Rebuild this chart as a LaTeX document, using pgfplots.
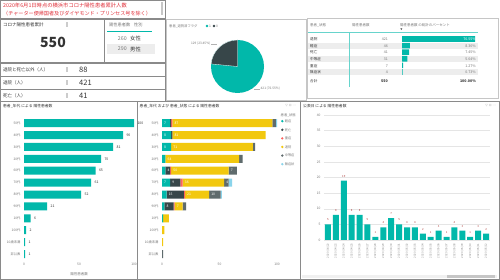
\documentclass[border=0pt]{standalone}
\usepackage{pgfplots}
\pgfplotsset{compat=1.18}
\usepackage{fontspec}
\setmainfont{Noto Sans CJK JP}
\newfontfamily\dejavu{DejaVu Sans}
\definecolor{pbteal}{HTML}{01B8AA}
\definecolor{pbdark}{HTML}{374649}
\definecolor{pbred}{HTML}{FD625E}
\definecolor{pbyellow}{HTML}{F2C80F}
\definecolor{pbgray}{HTML}{5F6B6D}
\definecolor{pblblue}{HTML}{8AD4EB}
\definecolor{titlered}{HTML}{E0303A}
\definecolor{txtgray}{HTML}{777777}
\definecolor{txtdark}{HTML}{333333}
\definecolor{bord}{HTML}{8A8A8A}
\definecolor{rowgray}{HTML}{EDEDED}
\newcommand{\fs}[1]{\fontsize{#1}{#1}\selectfont}
\pgfplotsset{pbi/.style={scale only axis, axis line style={draw=none}, major tick length=0pt,
  tick style={draw=none}, /pgf/number format/assume math mode=true,
  tick label style={font=\fs{3.3}, text=txtgray}, clip=false}}
\begin{document}
\begin{tikzpicture}[x=1pt,y=1pt]
\useasboundingbox (0,0) rectangle (500,280);
\fill[white] (0,0) rectangle (500,280);
% ---------- title box
\draw[bord, line width=0.6pt] (0.5,262) rectangle (165,279.5);
\node[anchor=west, inner sep=0, text=titlered] at (3,274.5) {\fs{5.3}2020年6月1日時点の横浜市コロナ陽性患者累計人数};
\node[anchor=west, inner sep=0, text=titlered] at (3,266.5) {\fs{5.1}（チャーター便帰国者及びダイヤモンド・プリンセス号を除く）};
\fill[gray!45] (161.3,265) rectangle (163.3,278);
% ---------- KPI box
\draw[bord, line width=0.6pt] (0.5,218) rectangle (104.5,261);
\node[anchor=west, inner sep=0, text=txtdark] at (3,255) {\fs{4.5}コロナ陽性患者累計};
\fill[gray!40] (66,252.5) rectangle (67.6,257.5);
\node[inner sep=0, text=txtdark] at (53,238) {\fs{14}\bfseries 550};
% ---------- gender box
\draw[bord, line width=0.6pt] (104.5,218) rectangle (165,261);
\node[anchor=west, inner sep=0, text=txtgray] at (109,255) {\fs{4.2}陽性患者数\hspace{4pt}性別};
\draw[pbteal, line width=0.5pt] (107,248.5) -- (152,248.5);
\fill[rowgray] (107,226) rectangle (155,236);
\node[anchor=east, inner sep=0, text=txtgray] at (127,241) {\fs{5.3}260};
\node[anchor=west, inner sep=0, text=txtdark] at (130,241) {\fs{5.3}女性};
\node[anchor=east, inner sep=0, text=txtgray] at (127,231) {\fs{5.3}290};
\node[anchor=west, inner sep=0, text=txtdark] at (130,231) {\fs{5.3}男性};
% ---------- rows
\draw[bord, line width=0.6pt] (0.5,204) rectangle (165,217);
\draw[bord, line width=0.6pt] (0.5,191) rectangle (165,204);
\draw[bord, line width=0.6pt] (0.5,178.5) rectangle (165,191);
\node[anchor=west, inner sep=0, text=txtdark] at (3,210.5) {\fs{4.5}退院と死亡以外（人）};
\node[anchor=west, inner sep=0, text=txtdark] at (3,197.5) {\fs{4.5}退院（人）};
\node[anchor=west, inner sep=0, text=txtdark] at (3,184.5) {\fs{4.5}死亡（人）};
\foreach \yy in {210.5,197.5,184.5} {\fill[gray!40] (66,\yy-2.5) rectangle (67.6,\yy+2.5);}
\node[anchor=west, inner sep=0, text=txtdark] at (79,210.5) {\fs{7.5}88};
\node[anchor=west, inner sep=0, text=txtdark] at (79,197.5) {\fs{7.5}421};
\node[anchor=west, inner sep=0, text=txtdark] at (79,184.5) {\fs{7.5}41};
% ---------- pie panel
\draw[gray!45, line width=0.5pt] (166,180) rectangle (306,261);
\node[anchor=west, inner sep=0, text=txtgray] at (169,254) {\fs{3.3}患者\_退院済フラグ};
\fill[pbteal] (207,254) circle (1.3);
\node[anchor=west, inner sep=0, text=txtgray] at (209,254) {\fs{3.3}1};
\fill[pbdark] (214,254) circle (1.3);
\node[anchor=west, inner sep=0, text=txtgray] at (216,254) {\fs{3.3}0};
\pgfmathsetmacro{\pieA}{129/(129+421)*360}
\begin{axis}[hide axis, scale only axis, at={(211pt,187pt)}, anchor=south west, width=53pt, height=53pt,
  xmin=-1, xmax=1, ymin=-1, ymax=1, clip=false]
\addplot[draw=none] coordinates {(0,0)};
\fill[pbteal] (axis cs:0,0) circle [radius=26.5pt];
\fill[pbdark, draw=white, line width=0.3pt] (axis cs:0,0) -- (axis cs:0,1) arc[start angle=90, delta angle=\pieA, radius=26.5pt] -- cycle;
\end{axis}
\draw[gray!60, line width=0.3pt] (211,236) -- (217,236);
\node[anchor=east, inner sep=0, text=txtgray] at (210.5,236) {\fs{3.2}129 (23.45\%)};
\draw[gray!60, line width=0.3pt] (254,191) -- (260,191);
\node[anchor=west, inner sep=0, text=txtgray] at (260.5,191) {\fs{3.2}421 (76.55\%)};
% ---------- table panel
\draw[gray!45, line width=0.5pt] (307,182) rectangle (498,262);
\node[anchor=west, inner sep=0, text=txtgray] at (310,255) {\fs{3.5}患者\_状態};
\node[anchor=west, inner sep=0, text=txtgray] at (352,255) {\fs{3.5}陽性患者数};
\node[anchor=west, inner sep=0, text=txtgray] at (400,255) {\fs{3.5}陽性患者数 の総計のパーセント};
\node[inner sep=0, text=txtdark] at (401.5,250.5) {\fs{2.2}▼};
\foreach \yy in {234,221,208} {\fill[rowgray] (308,\yy-3.3) rectangle (478,\yy+3.3);}
\draw[pbteal!60, line width=0.4pt] (308,247.8) -- (478,247.8);
\draw[pbteal!60, line width=0.4pt] (349,247.8) -- (349,193);
\begin{axis}[hide axis, scale only axis, xbar, at={(402pt,204.7pt)}, anchor=south west, width=73pt, height=39.6pt,
  xmin=0, xmax=76.55, ymin=-0.5, ymax=5.5, y dir=reverse, bar width=5.6pt, clip=false]
\addplot[fill=pbteal, draw=none] coordinates {(76.55,0) (8.36,1) (7.45,2) (5.64,3) (1.27,4) (0.73,5)};
\end{axis}
\foreach \yy/\st/\n/\p [count=\i] in {241/退院/421/76.55, 234/軽症/46/8.36, 228/死亡/41/7.45, 221/中等症/31/5.64, 214/重症/7/1.27, 208/無症状/4/0.73} {
  \node[anchor=west, inner sep=0, text=txtdark] at (310,\yy) {\fs{3.6}\st};
  \node[anchor=east, inner sep=0, text=txtgray] at (388,\yy) {\fs{3.6}\n};
  \ifnum\i=1
    \node[anchor=east, inner sep=0, text=white] at (476,\yy) {\fs{3.6}\p\%};
  \else
    \node[anchor=east, inner sep=0, text=txtgray] at (476,\yy) {\fs{3.6}\p\%};
  \fi
}
\node[anchor=west, inner sep=0, text=txtdark] at (310,199) {\fs{3.6}合計};
\node[anchor=east, inner sep=0, text=txtdark] at (388,199) {\fs{3.6}\bfseries 550};
\node[anchor=east, inner sep=0, text=txtdark] at (476,199) {\fs{3.6}\bfseries 100.00\%};
% ---------- bottom panels
\draw[bord, line width=0.6pt] (0.5,0.5) rectangle (137,179);
\draw[bord, line width=0.6pt] (137,0.5) rectangle (300,179);
\draw[bord, line width=0.6pt] (300,0.5) rectangle (499.5,179);
\node[anchor=west, inner sep=0, text=txtdark] at (3,174) {\fs{3.8}患者\_年代 による 陽性患者数};
\node[anchor=west, inner sep=0, text=txtdark] at (139.5,174) {\fs{3.8}患者\_年代 および 患者\_状態 による 陽性患者数};
\node[anchor=west, inner sep=0, text=txtdark] at (303,174) {\fs{3.8}公表日 による 陽性患者数};
% left bar chart
\begin{axis}[pbi, xbar, at={(24pt,20pt)}, anchor=south west, width=110pt, height=142.8pt,
  xmin=0, xmax=100, ymin=-0.5, ymax=11.5, y dir=reverse,
  xtick={0,50,100}, ytick={0,...,11},
  yticklabels={50代,40代,30代,20代,60代,70代,80代,90代,10代,100代,10歳未満,非公表},
  bar width=8pt, nodes near coords,
  nodes near coords style={font=\fs{3.5}, text=txtdark},
  xlabel={陽性患者数}, xlabel style={font=\fs{3.5}, text=txtgray}]
\addplot[fill=pbteal, draw=none] coordinates {(100,0) (90,1) (81,2) (70,3) (65,4) (61,5) (52,6) (21,7) (6,8) (2,9) (1,10) (1,11)};
\end{axis}
% middle stacked chart
\begin{axis}[pbi, xbar stacked, at={(162pt,20pt)}, anchor=south west, width=115pt, height=142.8pt,
  xmin=0, xmax=100, ymin=-0.5, ymax=11.5, y dir=reverse,
  xtick={0,50,100}, ytick={0,...,11},
  yticklabels={50代,40代,30代,20代,60代,70代,80代,90代,10代,100代,10歳未満,非公表},
  bar width=8pt]
\addplot[fill=pbteal, draw=none] coordinates {(7,0) (8,1) (8,2) (3,3) (3,4) (7,5) (4,6) (2,7) (1,8) (0,9) (0,10) (0,11)};
\addplot[fill=pbdark, draw=none] coordinates {(1,0) (1,1) (0,2) (0,3) (4,4) (9,5) (15,6) (8,7) (0,8) (0,9) (0,10) (0,11)};
\addplot[fill=pbred, draw=none] coordinates {(1,0) (0,1) (0,2) (0,3) (1,4) (2,5) (1,6) (1,7) (0,8) (0,9) (0,10) (0,11)};
\addplot[fill=pbyellow, draw=none] coordinates {(87,0) (81,1) (71,2) (64,3) (50,4) (36,5) (21,6) (7,7) (5,8) (2,9) (1,10) (0,11)};
\addplot[fill=pbgray, draw=none] coordinates {(3,0) (0,1) (2,2) (3,3) (7,4) (4,5) (10,6) (3,7) (0,8) (0,9) (0,10) (1,11)};
\addplot[fill=pblblue, draw=none] coordinates {(1,0) (0,1) (0,2) (0,3) (0,4) (3,5) (1,6) (0,7) (0,8) (0,9) (0,10) (0,11)};
\end{axis}
% segment labels (same geometry, at segment starts)
\begin{axis}[hide axis, scale only axis, at={(162pt,20pt)}, anchor=south west, width=115pt, height=142.8pt,
  xmin=0, xmax=100, ymin=-0.5, ymax=11.5, y dir=reverse, clip=false]
\addplot[only marks, mark=none, point meta=explicit symbolic, nodes near coords,
  nodes near coords style={font=\fs{3.4}, text=white, anchor=west, inner sep=0, xshift=2pt, yshift=0pt}]
  coordinates {(0,0)[7] (9,0)[87] (0,1)[8] (9,1)[81] (0,2)[8] (8,2)[71] (3,3)[64]
   (3,4)[4] (8,4)[50] (58,4)[7] (0,5)[7] (7,5)[9] (18,5)[36] (54,5)[4]
   (4,6)[15] (20,6)[21] (41,6)[10] (2,7)[8] (11,7)[7]};
\end{axis}
% legend
\node[anchor=west, inner sep=0, text=txtgray] at (280.5,165) {\fs{3.3}患者\_状態};
\foreach \c/\t [count=\i] in {pbteal/軽症, pbdark/死亡, pbred/重症, pbyellow/退院, pbgray/中等症, pblblue/無症状} {
  \fill[\c] (282.3,167.4-8.6*\i) circle (1.3);
  \node[anchor=west, inner sep=0, text=txtgray] at (284.6,167.4-8.6*\i) {\fs{3.2}\t};
}
% right column chart
\begin{axis}[pbi, ybar, at={(324pt,40pt)}, anchor=south west, width=166pt, height=125pt,
  xmin=-0.5, xmax=20.5, ymin=0, ymax=40, ytick={0,5,...,40},
  ymajorgrids, grid style={gray!20, line width=0.3pt},
  xtick={0,...,20},
  xticklabels={2020/04/22,2020/04/23,2020/04/24,2020/04/25,2020/04/26,2020/04/27,2020/04/28,2020/04/29,2020/04/30,2020/05/01,2020/05/02,2020/05/03,2020/05/04,2020/05/05,2020/05/06,2020/05/07,2020/05/08,2020/05/09,2020/05/10,2020/05/11,2020/05/12},
  x tick label style={rotate=90, anchor=east, font=\fs{2.8}, text=txtgray!80},
  bar width=6pt, nodes near coords, nodes near coords style={font=\fs{2.8}, text=pbred!70!black}]
\addplot[fill=pbteal, draw=none] coordinates {(0,5) (1,8) (2,19) (3,8) (4,8) (5,5) (6,1) (7,4) (8,7) (9,5) (10,4) (11,4) (12,2) (13,1) (14,3) (15,1) (16,4) (17,3) (18,1) (19,3) (20,2)};
\end{axis}
\fill[gray!12] (302,2) rectangle (497,4.5);
\fill[gray!45] (447,2) rectangle (495,4.5);
% panel icons
\node[anchor=east, inner sep=0, text=gray!70] at (296,174) {\dejavu\fs{3.2}▽ ⊡ ⋯};
\node[anchor=east, inner sep=0, text=gray!70] at (496,174) {\dejavu\fs{3.2}▽ ⊡ ⋯};
\end{tikzpicture}
\end{document}
